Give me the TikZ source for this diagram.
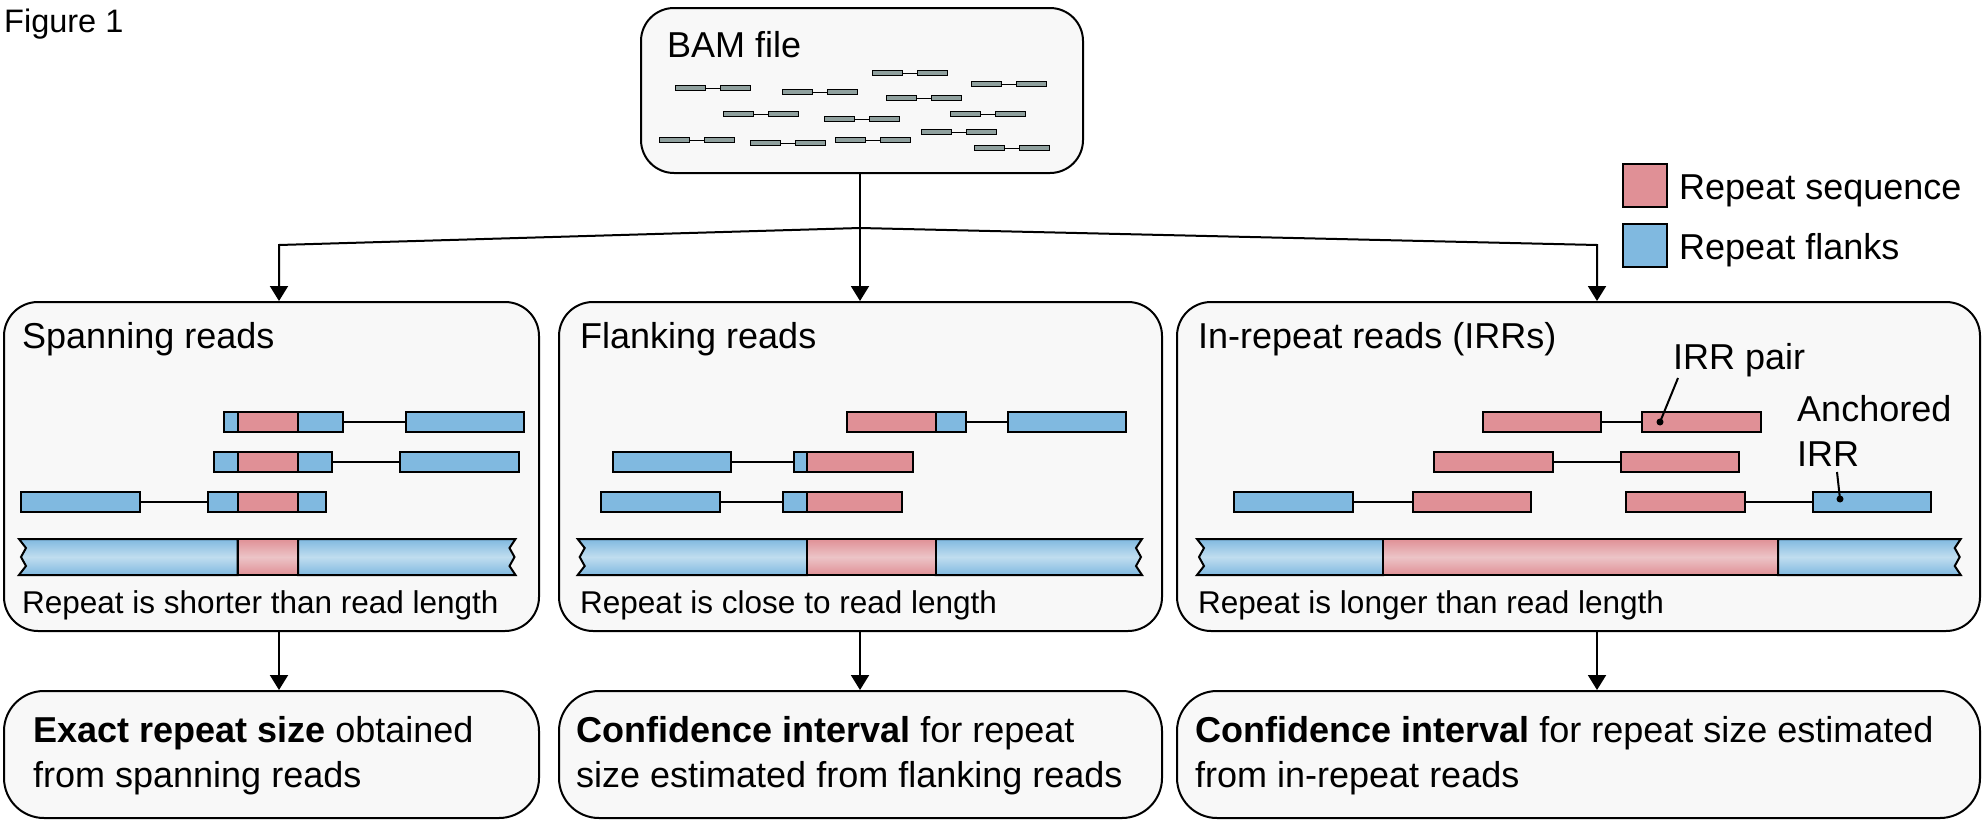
\documentclass[tikz,border=0pt]{standalone}
\usepackage{fontspec}
\setmainfont{Liberation Sans}
\usetikzlibrary{arrows.meta}
\definecolor{pinkR}{RGB}{224,144,150}
\definecolor{blueR}{RGB}{128,185,224}
\definecolor{pinkL}{RGB}{236,196,199}
\definecolor{blueL}{RGB}{192,221,239}
\definecolor{grayR}{RGB}{143,160,158}
\definecolor{boxbg}{RGB}{248,248,248}
\newcommand{\fsbig}{\fontsize{36}{45}\selectfont}
\newcommand{\fssmall}{\fontsize{31.5}{38}\selectfont}
\newcommand{\fsfig}{\fontsize{32.5}{40}\selectfont}
% read segment: x1, x2, ycenter, colour
\newcommand{\rdseg}[4]{\filldraw[rd, fill=#4] (#1,#3-10) rectangle (#2,#3+10);}
\newcommand{\rdlink}[3]{\draw[lnk] (#1,#3) -- (#2,#3);}
\newcommand{\bamread}[2]{%
  \filldraw[fill=grayR, line width=1pt] (#1,#2-2.5) rectangle (#1+30,#2+2.5);
  \draw[line width=1pt] (#1+30,#2) -- (#1+45,#2);
  \filldraw[fill=grayR, line width=1pt] (#1+45,#2-2.5) rectangle (#1+75,#2+2.5);}
% genome bar: x0, x1 (repeat start), x2 (repeat end), x3
\newcommand{\genome}[4]{%
  \shadedraw[top color=blueR, bottom color=blueR, middle color=blueL, line width=2pt]
    (#1,539) -- (#2,539) -- (#2,575) -- (#1,575) -- (#1+7,566) -- (#1+2,557) -- (#1+7,548) -- cycle;
  \shadedraw[top color=blueR, bottom color=blueR, middle color=blueL, line width=2pt]
    (#3,539) -- (#4,539) -- (#4-6,548) -- (#4-1,557) -- (#4-6,566) -- (#4,575) -- (#3,575) -- cycle;
  \shadedraw[top color=pinkR, bottom color=pinkR, middle color=pinkL, line width=2pt]
    (#2,539) rectangle (#3,575);}
\begin{document}
\begin{tikzpicture}[x=1pt, y=-1pt,
  box/.style={draw=black, line width=2pt, fill=boxbg, inner sep=0pt, anchor=north west},
  arr/.style={line width=2pt, -{Triangle[width=18pt,length=15pt]}},
  rd/.style={draw=black, line width=2pt},
  lnk/.style={line width=1.8pt},
  lbl/.style={anchor=base west, inner sep=0pt, font=\fsbig},
  sml/.style={anchor=base west, inner sep=0pt, font=\fssmall}]
\useasboundingbox (0,0) rectangle (1983,819);
\fill[white] (0,0) rectangle (1983,819);

\node[anchor=base west, inner sep=0pt, font=\fsfig] (fig) at (4,32) {Figure 1};

% boxes
\node[box, rounded corners=33pt, minimum width=442pt, minimum height=165pt] (bam) at (640,7) {};
\node[box, rounded corners=34pt, minimum width=535pt, minimum height=329pt] (span) at (3,301) {};
\node[box, rounded corners=34pt, minimum width=603pt, minimum height=329pt] (flank) at (558,301) {};
\node[box, rounded corners=34pt, minimum width=803pt, minimum height=329pt] (irr) at (1176,301) {};
\node[box, rounded corners=40pt, minimum width=535pt, minimum height=127pt] (res1) at (3,690) {};
\node[box, rounded corners=40pt, minimum width=603pt, minimum height=127pt] (res2) at (558,690) {};
\node[box, rounded corners=40pt, minimum width=803pt, minimum height=127pt] (res3) at (1176,690) {};

% BAM content
\node[lbl] (bamt) at (667,57) {BAM file};
\bamread{675}{88}
\bamread{782}{92}
\bamread{872}{73}
\bamread{971}{84}
\bamread{886}{98}
\bamread{723}{114}
\bamread{824}{119}
\bamread{950}{114}
\bamread{659}{140}
\bamread{750}{143}
\bamread{835}{140}
\bamread{921}{132}
\bamread{974}{148}

% connectors
\coordinate (jm) at (860,228);
\coordinate (jl) at (279,245);
\coordinate (jr) at (1597,245);
\draw[line width=2pt] (bam.south -| jm) -- (jm);
\draw[arr] (jm) -- (flank.north -| jm);
\draw[arr] (jm) -- (jl) -- (span.north -| jl);
\draw[arr] (jm) -- (jr) -- (irr.north -| jr);
\draw[arr] (span.south -| jl) -- (res1.north -| jl);
\draw[arr] (flank.south -| jm) -- (res2.north -| jm);
\draw[arr] (irr.south -| jr) -- (res3.north -| jr);

% legend
\filldraw[fill=pinkR, line width=2.5pt] (1623,164) rectangle (1667,207);
\filldraw[fill=blueR, line width=2.5pt] (1623,224) rectangle (1667,267);
\node[lbl] (legp) at (1679,199) {Repeat sequence};
\node[lbl] (legb) at (1679,259) {Repeat flanks};

% Spanning panel
\node[lbl] (spant) at (22,348) {Spanning reads};
\rdseg{224}{237.6}{422}{blueR}\rdseg{237.6}{298}{422}{pinkR}\rdseg{298}{343}{422}{blueR}
\rdlink{343}{405.6}{422}\rdseg{405.6}{524}{422}{blueR}
\rdseg{213.5}{237.6}{462}{blueR}\rdseg{237.6}{298}{462}{pinkR}\rdseg{298}{332.3}{462}{blueR}
\rdlink{332.3}{400}{462}\rdseg{400}{519}{462}{blueR}
\rdseg{20.7}{139.5}{502}{blueR}\rdlink{139.5}{207.6}{502}
\rdseg{207.6}{237.6}{502}{blueR}\rdseg{237.6}{298}{502}{pinkR}\rdseg{298}{326.4}{502}{blueR}
\genome{19}{237.6}{298}{515.5}
\node[sml] (spans) at (22,613) {Repeat is shorter than read length};

% Flanking panel
\node[lbl] (flankt) at (580,348) {Flanking reads};
\rdseg{847.4}{935.5}{422}{pinkR}\rdseg{935.5}{966}{422}{blueR}
\rdlink{966}{1007.5}{422}\rdseg{1007.5}{1126}{422}{blueR}
\rdseg{612.5}{731}{462}{blueR}\rdlink{731}{794}{462}
\rdseg{794}{807}{462}{blueR}\rdseg{807}{912.6}{462}{pinkR}
\rdseg{601.4}{720}{502}{blueR}\rdlink{720}{783}{502}
\rdseg{783}{807}{502}{blueR}\rdseg{807}{901.5}{502}{pinkR}
\genome{577.7}{807}{935.5}{1142}
\node[sml] (flanks) at (580,613) {Repeat is close to read length};

% IRR panel
\node[lbl] (irrt) at (1198,348) {In-repeat reads (IRRs)};
\rdseg{1482.5}{1600.5}{422}{pinkR}\rdlink{1600.5}{1642}{422}\rdseg{1642}{1761}{422}{pinkR}
\rdseg{1434.2}{1552.7}{462}{pinkR}\rdlink{1552.7}{1621}{462}\rdseg{1621}{1739.3}{462}{pinkR}
\rdseg{1233.5}{1352.5}{502}{blueR}\rdlink{1352.5}{1412.5}{502}\rdseg{1412.5}{1531}{502}{pinkR}
\rdseg{1626}{1744.5}{502}{pinkR}\rdlink{1744.5}{1813}{502}\rdseg{1813}{1931}{502}{blueR}
\genome{1197}{1383}{1778}{1960.7}
\node[sml] (irrs) at (1198,613) {Repeat is longer than read length};
\node[lbl] (irrpair) at (1673,369) {IRR pair};
\node[lbl] (anch1) at (1797,421) {Anchored};
\node[lbl] (anch2) at (1797,466) {IRR};
\coordinate (p1) at (1660,422);
\coordinate (p2) at (1840,499);
\draw[line width=2pt] (1678,378) -- (p1);
\fill (p1) circle (3.5pt);
\draw[line width=2pt] (1837,472) -- (p2);
\fill (p2) circle (3.5pt);

% results
\node[lbl] (r1a) at (33,742) {\textbf{Exact repeat size} obtained};
\node[lbl] (r1b) at (33,787) {from spanning reads};
\node[lbl] (r2a) at (576,742) {\textbf{Confidence interval} for repeat};
\node[lbl] (r2b) at (576,787) {size estimated from flanking reads};
\node[lbl] (r3a) at (1195,742) {\textbf{Confidence interval} for repeat size estimated};
\node[lbl] (r3b) at (1195,787) {from in-repeat reads};
\end{tikzpicture}
\end{document}
